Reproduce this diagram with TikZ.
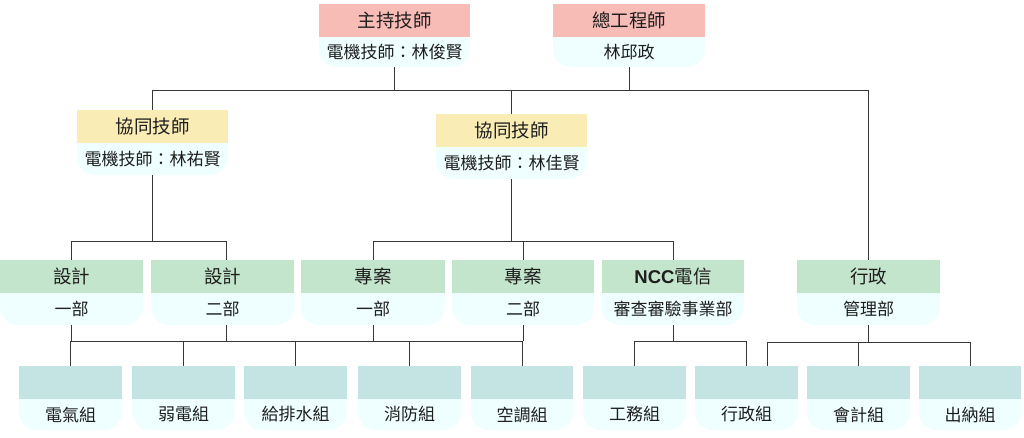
\documentclass[tikz,border=0pt]{standalone}
\usepackage{fontspec}
\newfontfamily\cjk{Noto Sans CJK TC}
\newfontfamily\lat{Liberation Sans}
\usetikzlibrary{calc}
\definecolor{cpink}{RGB}{248,188,183}
\definecolor{cyellow}{RGB}{249,236,180}
\definecolor{cgreen}{RGB}{195,229,203}
\definecolor{cteal}{RGB}{195,228,226}
\definecolor{clight}{RGB}{239,255,255}
\definecolor{ctext}{RGB}{30,30,30}
\definecolor{cline}{RGB}{55,55,55}
\tikzset{
  ttl/.style={inner sep=0pt, text=ctext, font=\cjk\fontsize{18.5}{20}\selectfont},
  sub/.style={inner sep=0pt, text=ctext, font=\cjk\fontsize{17}{19}\selectfont},
  conn/.style={draw=cline, line width=0.85pt},
}
% name, x1, x2, ytop, ymid, ybot, colour, title, subtitle
\newcommand{\orgbox}[9]{%
  \fill[clight, rounded corners=18pt] (#2,#5-20) rectangle (#3,#6);
  \fill[#7] (#2,#4) rectangle (#3,#5);
  \node[ttl] (#1-t) at ({(#2+#3)/2},{(#4+#5)/2}) {#8};
  \node[sub] (#1-s) at ({(#2+#3)/2},{(#5+#6)/2}) {#9};
  \node[inner sep=0pt, outer sep=0pt, minimum width={(#3-#2)*1pt}, minimum height={(#6-#4)*1pt}] (#1) at ({(#2+#3)/2},{(#4+#6)/2}) {};
}
\begin{document}
\begin{tikzpicture}[x=1pt,y=-1pt]
\useasboundingbox (0,0) rectangle (1024,437);
\orgbox{zhu}{319}{470}{4}{37}{67}{cpink}{主持技師}{電機技師：林俊賢}
\orgbox{zong}{553}{705}{4}{37}{67}{cpink}{總工程師}{林邱政}
\orgbox{xie1}{77}{228}{110}{143}{175}{cyellow}{協同技師}{電機技師：林祐賢}
\orgbox{xie2}{436}{587}{114}{147}{179}{cyellow}{協同技師}{電機技師：林佳賢}
\orgbox{sj1}{0}{143}{260}{293}{325}{cgreen}{設計}{一部}
\orgbox{sj2}{151}{294}{260}{293}{325}{cgreen}{設計}{二部}
\orgbox{za1}{301}{445}{260}{293}{325}{cgreen}{專案}{一部}
\orgbox{za2}{452}{594}{260}{293}{325}{cgreen}{專案}{二部}
\orgbox{ncc}{602}{744}{260}{293}{325}{cgreen}{{\lat\bfseries NCC}電信}{審查審驗事業部}
\orgbox{xing}{797}{940}{260}{293}{325}{cgreen}{行政}{管理部}
\orgbox{g1}{19}{122}{366}{399}{430}{cteal}{}{電氣組}
\orgbox{g2}{132}{235}{366}{399}{430}{cteal}{}{弱電組}
\orgbox{g3}{244}{347}{366}{399}{430}{cteal}{}{給排水組}
\orgbox{g4}{358}{461}{366}{399}{430}{cteal}{}{消防組}
\orgbox{g5}{471}{573}{366}{399}{430}{cteal}{}{空調組}
\orgbox{g6}{583}{686}{366}{399}{430}{cteal}{}{工務組}
\orgbox{g7}{695}{798}{366}{399}{430}{cteal}{}{行政組}
\orgbox{g8}{807}{910}{366}{399}{430}{cteal}{}{會計組}
\orgbox{g9}{919}{1021}{366}{399}{430}{cteal}{}{出納組}
% junction levels
\coordinate (j1) at (511,90);
\coordinate (j2) at (0,241);
\coordinate (j3) at (0,341);
\coordinate (j4) at (0,342);
\coordinate (sj2c) at ($(sj2.south)+(3.5,0)$);
\coordinate (sj2n) at ($(sj2.north)+(3.5,0)$);
\coordinate (g7k) at ($(g7.north)+(20.5,0)$);
% top level
\draw[conn] (zhu.south) -- (zhu.south |- j1);
\draw[conn] (zong.south) -- (zong.south |- j1);
\draw[conn] (xie1.north) -- (xie1.north |- j1) -- (xing.north |- j1) -- (xing.north);
\draw[conn] (xie2.north) -- (xie2.north |- j1);
% second level
\draw[conn] (xie1.south) -- (xie1.south |- j2);
\draw[conn] (sj1.north) -- (sj1.north |- j2) -- (sj2n |- j2) -- (sj2n);
\draw[conn] (xie2.south) -- (xie2.south |- j2);
\draw[conn] (za1.north) -- (za1.north |- j2) -- (ncc.north |- j2) -- (ncc.north);
\draw[conn] (za2.north) -- (za2.north |- j2);
% third level: design / project groups
\draw[conn] (g1.north |- j3) -- (g5.north |- j3);
\draw[conn] (sj1.south) -- (sj1.south |- j3);
\draw[conn] (sj2c) -- (sj2c |- j3);
\draw[conn] (za1.south) -- (za1.south |- j3);
\draw[conn] (za2.south) -- (za2.south |- j3);
\draw[conn] (g1.north) -- (g1.north |- j3);
\draw[conn] (g2.north) -- (g2.north |- j3);
\draw[conn] (g3.north) -- (g3.north |- j3);
\draw[conn] (g4.north) -- (g4.north |- j3);
\draw[conn] (g5.north) -- (g5.north |- j3);
% NCC groups
\draw[conn] (g6.north) -- (g6.north |- j3) -- (g7.north |- j3) -- (g7.north);
\draw[conn] (ncc.south) -- (ncc.south |- j3);
% admin groups
\draw[conn] (g7k) -- (g7k |- j4) -- (g9.north |- j4) -- (g9.north);
\draw[conn] (xing.south) -- (xing.south |- j4);
\draw[conn] (g8.north) -- (g8.north |- j4);
\end{tikzpicture}
\end{document}
